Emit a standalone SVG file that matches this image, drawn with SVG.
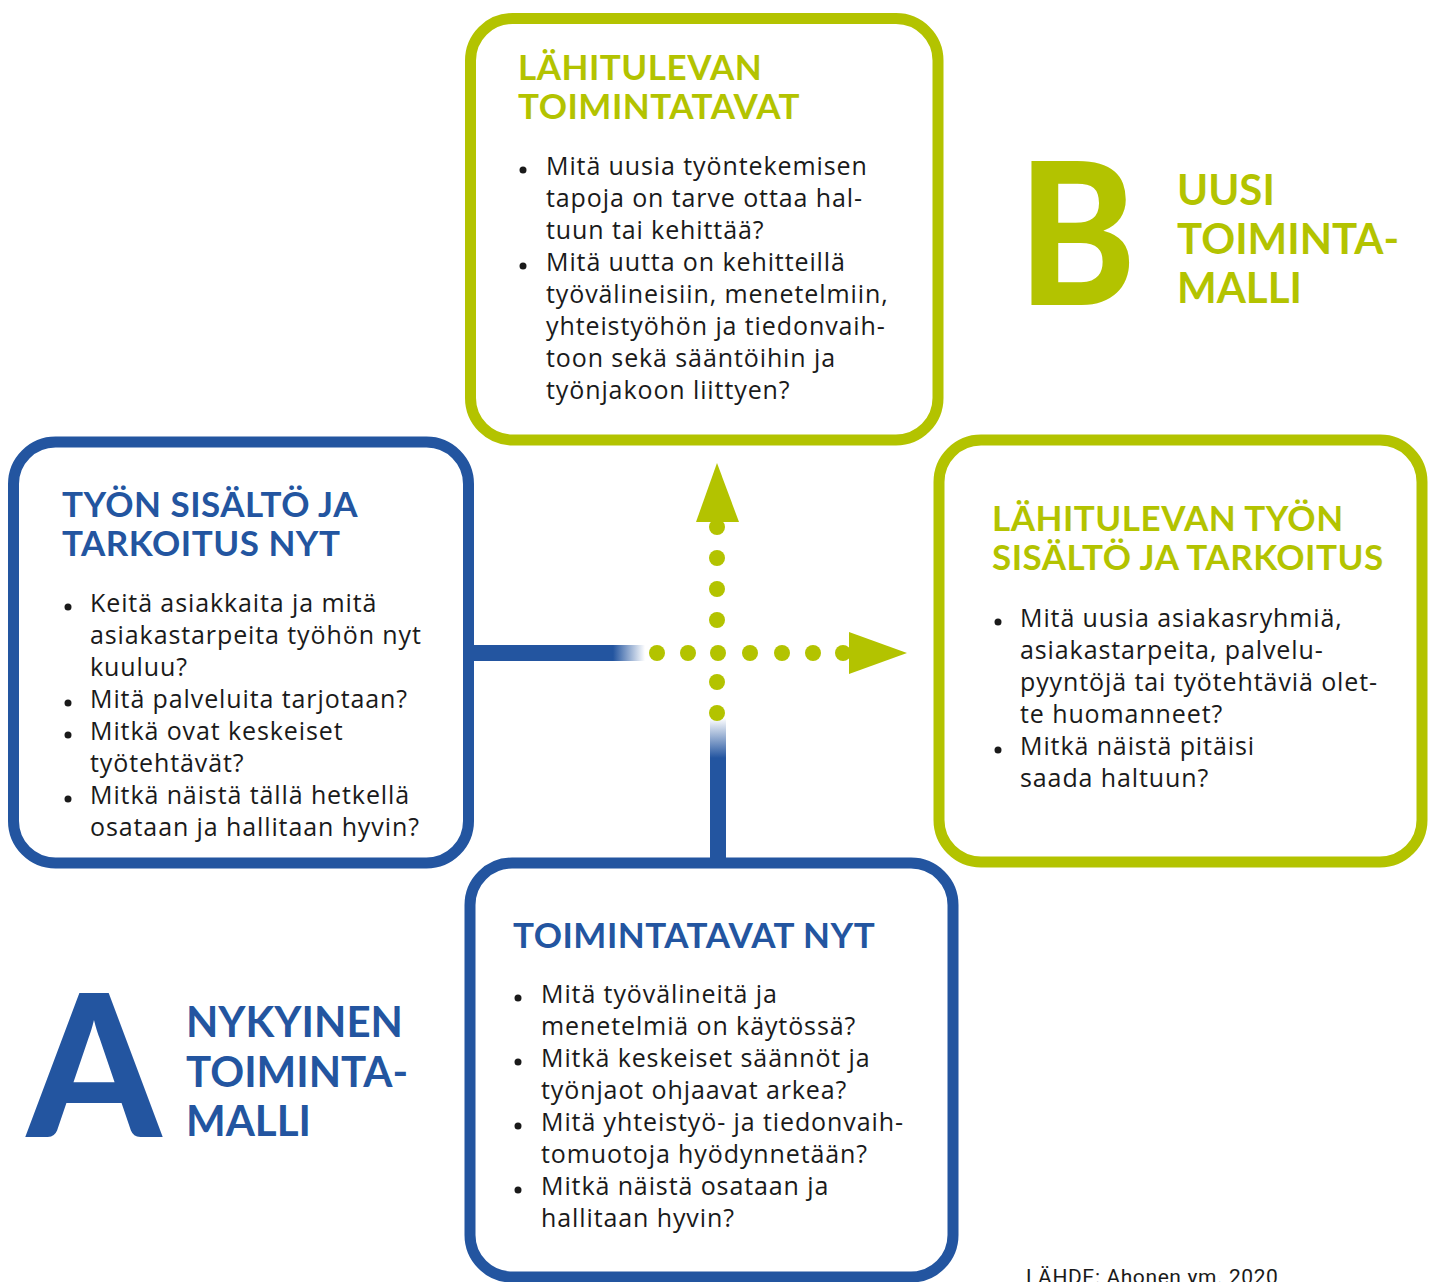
<svg xmlns="http://www.w3.org/2000/svg" width="1435" height="1282" viewBox="0 0 1435 1282">
<style>
.gbox{fill:none;stroke:#b3c300;stroke-width:11}
.bbox{fill:none;stroke:#2355a0;stroke-width:11}
.body{font-family:"Open Sans",Lato,sans-serif;font-size:25px;letter-spacing:0.9px;fill:#1a1a1a}
.hg{font-family:Lato,"Open Sans",sans-serif;font-size:35px;font-weight:700;letter-spacing:0.5px;fill:#b3c300}
.hb{font-family:Lato,"Open Sans",sans-serif;font-size:35px;font-weight:700;letter-spacing:0.5px;fill:#2355a0}
.big{font-family:Lato,"Open Sans",sans-serif;font-size:198px;font-weight:900}
.mid{font-family:Lato,"Open Sans",sans-serif;font-size:42px;font-weight:700}
.dot{fill:#1a1a1a}
.gd{fill:#b3c300}
</style>
<defs>
<linearGradient id="fadeH" gradientUnits="userSpaceOnUse" x1="613" y1="0" x2="645" y2="0">
<stop offset="0" stop-color="#2355a0" stop-opacity="1"/>
<stop offset="1" stop-color="#2355a0" stop-opacity="0"/>
</linearGradient>
<linearGradient id="fadeV" gradientUnits="userSpaceOnUse" x1="0" y1="758" x2="0" y2="718">
<stop offset="0" stop-color="#2355a0" stop-opacity="1"/>
<stop offset="1" stop-color="#2355a0" stop-opacity="0"/>
</linearGradient>
</defs>
<rect width="1435" height="1282" fill="#ffffff"/>

<g id="node-top">
<rect class="gbox" x="470.5" y="18.5" width="467.5" height="421.5" rx="42"/>
<text class="hg" x="518" y="80">LÄHITULEVAN</text>
<text class="hg" x="518" y="119">TOIMINTATAVAT</text>
<circle class="dot" cx="523" cy="170" r="3.5"/>
<circle class="dot" cx="523" cy="266" r="3.5"/>
<text class="body" x="546" y="175">Mitä uusia työntekemisen</text>
<text class="body" x="546" y="207">tapoja on tarve ottaa hal-</text>
<text class="body" x="546" y="239">tuun tai kehittää?</text>
<text class="body" x="546" y="271">Mitä uutta on kehitteillä</text>
<text class="body" x="546" y="303">työvälineisiin, menetelmiin,</text>
<text class="body" x="546" y="335">yhteistyöhön ja tiedonvaih-</text>
<text class="body" x="546" y="367">toon sekä sääntöihin ja</text>
<text class="body" x="546" y="399">työnjakoon liittyen?</text>
</g>

<g id="node-right">
<rect class="gbox" x="939" y="440" width="483" height="422" rx="42"/>
<text class="hg" x="992" y="531">LÄHITULEVAN TYÖN</text>
<text class="hg" x="992" y="570">SISÄLTÖ JA TARKOITUS</text>
<circle class="dot" cx="998" cy="622" r="3.5"/>
<circle class="dot" cx="998" cy="750" r="3.5"/>
<text class="body" x="1020" y="627">Mitä uusia asiakasryhmiä,</text>
<text class="body" x="1020" y="659">asiakastarpeita, palvelu-</text>
<text class="body" x="1020" y="691">pyyntöjä tai työtehtäviä olet-</text>
<text class="body" x="1020" y="723">te huomanneet?</text>
<text class="body" x="1020" y="755">Mitkä näistä pitäisi</text>
<text class="body" x="1020" y="787">saada haltuun?</text>
</g>

<g id="node-left">
<rect class="bbox" x="13.5" y="442" width="455" height="421" rx="42"/>
<text class="hb" x="62" y="517">TYÖN SISÄLTÖ JA</text>
<text class="hb" x="62" y="556">TARKOITUS NYT</text>
<circle class="dot" cx="68" cy="607" r="3.5"/>
<circle class="dot" cx="68" cy="703" r="3.5"/>
<circle class="dot" cx="68" cy="735" r="3.5"/>
<circle class="dot" cx="68" cy="799" r="3.5"/>
<text class="body" x="90" y="612">Keitä asiakkaita ja mitä</text>
<text class="body" x="90" y="644">asiakastarpeita työhön nyt</text>
<text class="body" x="90" y="676">kuuluu?</text>
<text class="body" x="90" y="708">Mitä palveluita tarjotaan?</text>
<text class="body" x="90" y="740">Mitkä ovat keskeiset</text>
<text class="body" x="90" y="772">työtehtävät?</text>
<text class="body" x="90" y="804">Mitkä näistä tällä hetkellä</text>
<text class="body" x="90" y="836">osataan ja hallitaan hyvin?</text>
</g>

<g id="node-bottom">
<rect class="bbox" x="470" y="863" width="483" height="414" rx="42"/>
<text class="hb" x="513" y="948">TOIMINTATAVAT NYT</text>
<circle class="dot" cx="518" cy="998" r="3.5"/>
<circle class="dot" cx="518" cy="1062" r="3.5"/>
<circle class="dot" cx="518" cy="1126" r="3.5"/>
<circle class="dot" cx="518" cy="1190" r="3.5"/>
<text class="body" x="541" y="1003">Mitä työvälineitä ja</text>
<text class="body" x="541" y="1035">menetelmiä on käytössä?</text>
<text class="body" x="541" y="1067">Mitkä keskeiset säännöt ja</text>
<text class="body" x="541" y="1099">työnjaot ohjaavat arkea?</text>
<text class="body" x="541" y="1131">Mitä yhteistyö- ja tiedonvaih-</text>
<text class="body" x="541" y="1163">tomuotoja hyödynnetään?</text>
<text class="body" x="541" y="1195">Mitkä näistä osataan ja</text>
<text class="body" x="541" y="1227">hallitaan hyvin?</text>
</g>

<g id="label-B">
<text class="big" x="1018" y="305" fill="#b3c300" textLength="118" lengthAdjust="spacingAndGlyphs">B</text>
<text class="mid" x="1177" y="205" fill="#b3c300">UUSI</text>
<text class="mid" x="1177" y="254" fill="#b3c300">TOIMINTA-</text>
<text class="mid" x="1177" y="303" fill="#b3c300">MALLI</text>
</g>

<g id="label-A">
<text class="big" x="27" y="1137" fill="#2355a0" textLength="134" lengthAdjust="spacingAndGlyphs">A</text>
<text class="mid" x="186" y="1037" fill="#2355a0">NYKYINEN</text>
<text class="mid" x="186" y="1087" fill="#2355a0">TOIMINTA-</text>
<text class="mid" x="186" y="1136" fill="#2355a0">MALLI</text>
</g>

<g id="connectors">
<rect x="474" y="645" width="139" height="16" fill="#2355a0"/>
<rect x="613" y="645" width="32" height="16" fill="url(#fadeH)"/>
<rect x="710" y="758" width="16" height="105" fill="#2355a0"/>
<rect x="710" y="718" width="16" height="40" fill="url(#fadeV)"/>
<circle class="gd" cx="657" cy="653" r="8"/>
<circle class="gd" cx="688" cy="653" r="8"/>
<circle class="gd" cx="718" cy="653" r="8"/>
<circle class="gd" cx="750" cy="653" r="8"/>
<circle class="gd" cx="782" cy="653" r="8"/>
<circle class="gd" cx="813" cy="653" r="8"/>
<circle class="gd" cx="843" cy="653" r="8"/>
<polygon class="gd" points="849,632 907,653 849,674"/>
<circle class="gd" cx="717" cy="527" r="8"/>
<circle class="gd" cx="717" cy="558" r="8"/>
<circle class="gd" cx="717" cy="589" r="8"/>
<circle class="gd" cx="717" cy="620" r="8"/>
<circle class="gd" cx="717" cy="682" r="8"/>
<circle class="gd" cx="717" cy="713" r="8"/>
<polygon class="gd" points="717,463 739,522 696,522"/>
</g>

<text x="1026" y="1284" font-family="Roboto,'Liberation Sans',sans-serif" font-size="21" letter-spacing="0.6" fill="#1a1a1a">LÄHDE: Ahonen ym. 2020</text>
</svg>
